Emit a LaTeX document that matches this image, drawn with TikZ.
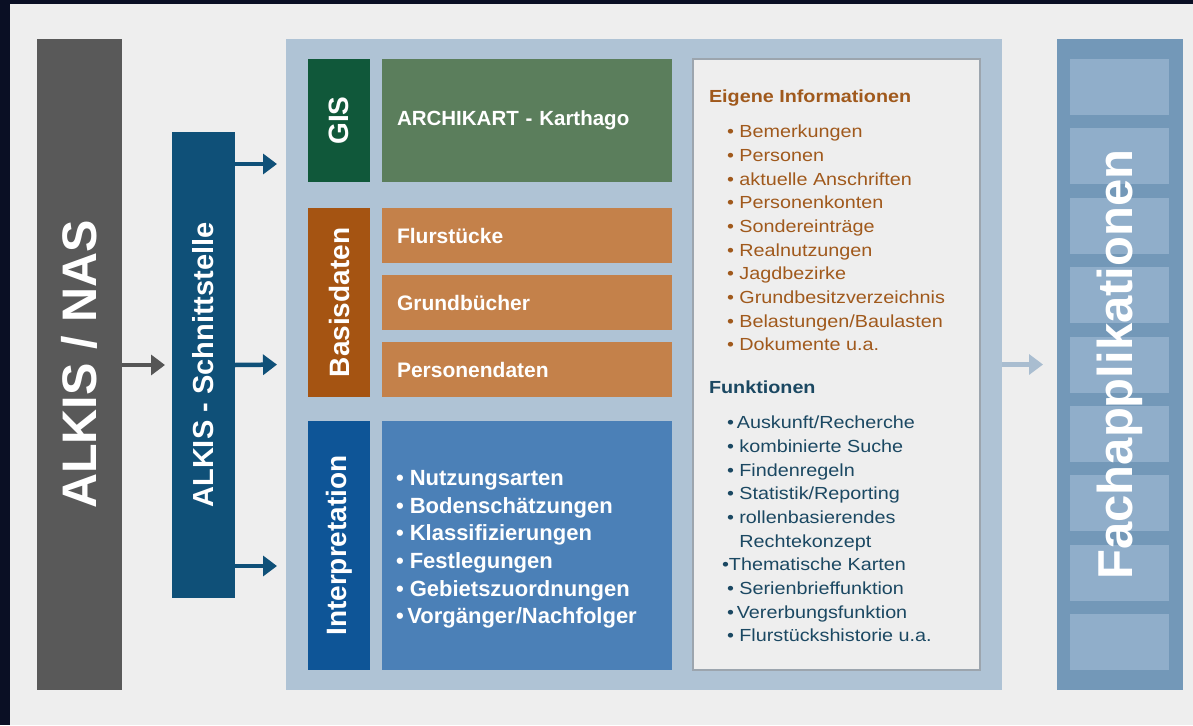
\documentclass[tikz,border=0pt]{standalone}
\usepackage{fontspec}
\setmainfont{Liberation Sans}
\newfontfamily\panelfont{Liberation Sans}[FakeStretch=1.13]
\usepackage{xcolor}
\definecolor{navyframe}{HTML}{0A0F24}
\definecolor{paper}{HTML}{EEEEEE}
\definecolor{alkisgrey}{HTML}{595959}
\definecolor{arrowgrey}{HTML}{555555}
\definecolor{schnittblue}{HTML}{0F5078}
\definecolor{panelblue}{HTML}{AFC3D5}
\definecolor{gisgreen}{HTML}{10583A}
\definecolor{archigreen}{HTML}{5B7E5C}
\definecolor{basisbrown}{HTML}{A55412}
\definecolor{datorange}{HTML}{C4814A}
\definecolor{interblue}{HTML}{0E5597}
\definecolor{itemblue}{HTML}{4B80B7}
\definecolor{panelline}{HTML}{9CA5AE}
\definecolor{infobrown}{HTML}{A0591C}
\definecolor{funkblue}{HTML}{1B4862}
\definecolor{fachblue}{HTML}{7398B8}
\definecolor{fachcell}{HTML}{90AECA}
\definecolor{lightarrow}{HTML}{A9BDD0}
\usepackage{tikz}
\usetikzlibrary{positioning, arrows.meta}

\begin{document}
\begin{tikzpicture}[x=1pt, y=-1pt, every node/.style={inner sep=0pt, outer sep=0pt},
    tilebox/.style={anchor=north west, minimum width=290, minimum height=55, text width=260, inner xsep=15pt, align=left, text=white, font=\bfseries\fontsize{21}{25}\selectfont},
    sidebox/.style={anchor=north west, minimum width=62, text=white, font=\bfseries\fontsize{28}{28}\selectfont},
    infolist/.style={anchor=north west, align=left, font=\panelfont\fontsize{17.5}{23.7}\selectfont},
    infohead/.style={anchor=west, font=\panelfont\bfseries\fontsize{17.5}{21}\selectfont},
    arr/.style={line width=4.5pt, -{Triangle[width=20pt,length=14pt]}}]
        \useasboundingbox (0,0) rectangle (1193,725);
        \fill[navyframe] (0,0) rectangle (1193,725);
        \fill[paper] (10,4) rectangle (1193,725);

        \node[fill=alkisgrey, anchor=north west, minimum width=85, minimum height=651, text=white, font=\bfseries\fontsize{48.5}{48.5}\selectfont] (alkis) at (37,39) {\rotatebox{90}{ALKIS / NAS}};
        \node[fill=schnittblue, anchor=north west, minimum width=63, minimum height=466, text=white, font=\bfseries\fontsize{29}{29}\selectfont] (schnitt) at (172,132) {\rotatebox{90}{ALKIS - Schnittstelle}};
        \node[fill=panelblue, anchor=north west, minimum width=716, minimum height=651] (panel) at (286,39) {};

        \node[sidebox, fill=gisgreen, minimum height=123] (gis) at (308,59) {\rotatebox{90}{GIS}};
        \node[tilebox, fill=archigreen, minimum height=123, font=\bfseries\fontsize{20.5}{24}\selectfont] (archi) at (382,59) {ARCHIKART - Karthago};

        \node[sidebox, fill=basisbrown, minimum height=189] (basis) at (308,208) {\rotatebox{90}{Basisdaten}};
        \node[tilebox, fill=datorange] (flur) at (382,208) {Flurstücke};
        \node[tilebox, fill=datorange, below=12pt of flur] (grund) {Grundbücher};
        \node[tilebox, fill=datorange, below=12pt of grund] (persd) {Personendaten};

        \node[sidebox, fill=interblue, minimum height=249] (interp) at (308,421) {\rotatebox{90}{Interpretation}};
        \node[tilebox, fill=itemblue, minimum height=249] (merk) at (382,421) {};
        \node[anchor=west, align=left, text=white, font=\bfseries\fontsize{22}{27.6}\selectfont] (merktxt) at ([xshift=14pt, yshift=-4pt]merk.west) {• Nutzungsarten\\• Bodenschätzungen\\• Klassifizierungen\\• Festlegungen\\• Gebietszuordnungen\\•\,Vorgänger/Nachfolger};

        \node[fill=paper, draw=panelline, line width=1.5pt, anchor=north west, minimum width=287, minimum height=611] (info) at (693,59) {};
        \node[infohead, text=infobrown] (eig) at (709,98) {Eigene Informationen};
        \node[infolist, text=infobrown] (eigl) at (727,125) {• Bemerkungen\\• Personen\\• aktuelle Anschriften\\• Personenkonten\\• Sondereinträge\\• Realnutzungen\\• Jagdbezirke\\• Grundbesitzverzeichnis\\• Belastungen/Baulasten\\• Dokumente u.a.};
        \node[infohead, text=funkblue] (funk) at (709,387) {Funktionen};
        \node[infolist, text=funkblue] (funkl) at (727,416) {•\,Auskunft/Recherche\\• kombinierte Suche\\• Findenregeln\\• Statistik/Reporting\\• rollenbasierendes\\\hphantom{• }Rechtekonzept\\\hspace*{-5pt}•Thematische Karten\\• Serienbrieffunktion\\•\,Vererbungsfunktion\\• Flurstückshistorie u.a.};

        \node[fill=fachblue, anchor=north west, minimum width=126, minimum height=651] (fach) at (1057,39) {};
        \foreach \i in {0,...,8}
            \fill[fachcell] (1070,59+69.4*\i) rectangle ++(99,56);
        \node[text=white, font=\bfseries\fontsize{49}{49}\selectfont] (fachtxt) at (fach.center) {\rotatebox{90}{Fachapplikationen}};

        \coordinate (a1) at (277,164);
        \coordinate (a3) at (277,566);
        \draw[arr, arrowgrey, shorten >=7pt] (alkis.east |- schnitt.west) -- (schnitt.west);
        \draw[arr, schnittblue] (schnitt.east |- a1) -- (a1);
        \draw[arr, schnittblue, shorten >=9pt] (schnitt.east) -- (panel.west);
        \draw[arr, schnittblue] (schnitt.east |- a3) -- (a3);
        \draw[arr, lightarrow, shorten >=14pt] (panel.east) -- (fach.west);
\end{tikzpicture}
\end{document}
